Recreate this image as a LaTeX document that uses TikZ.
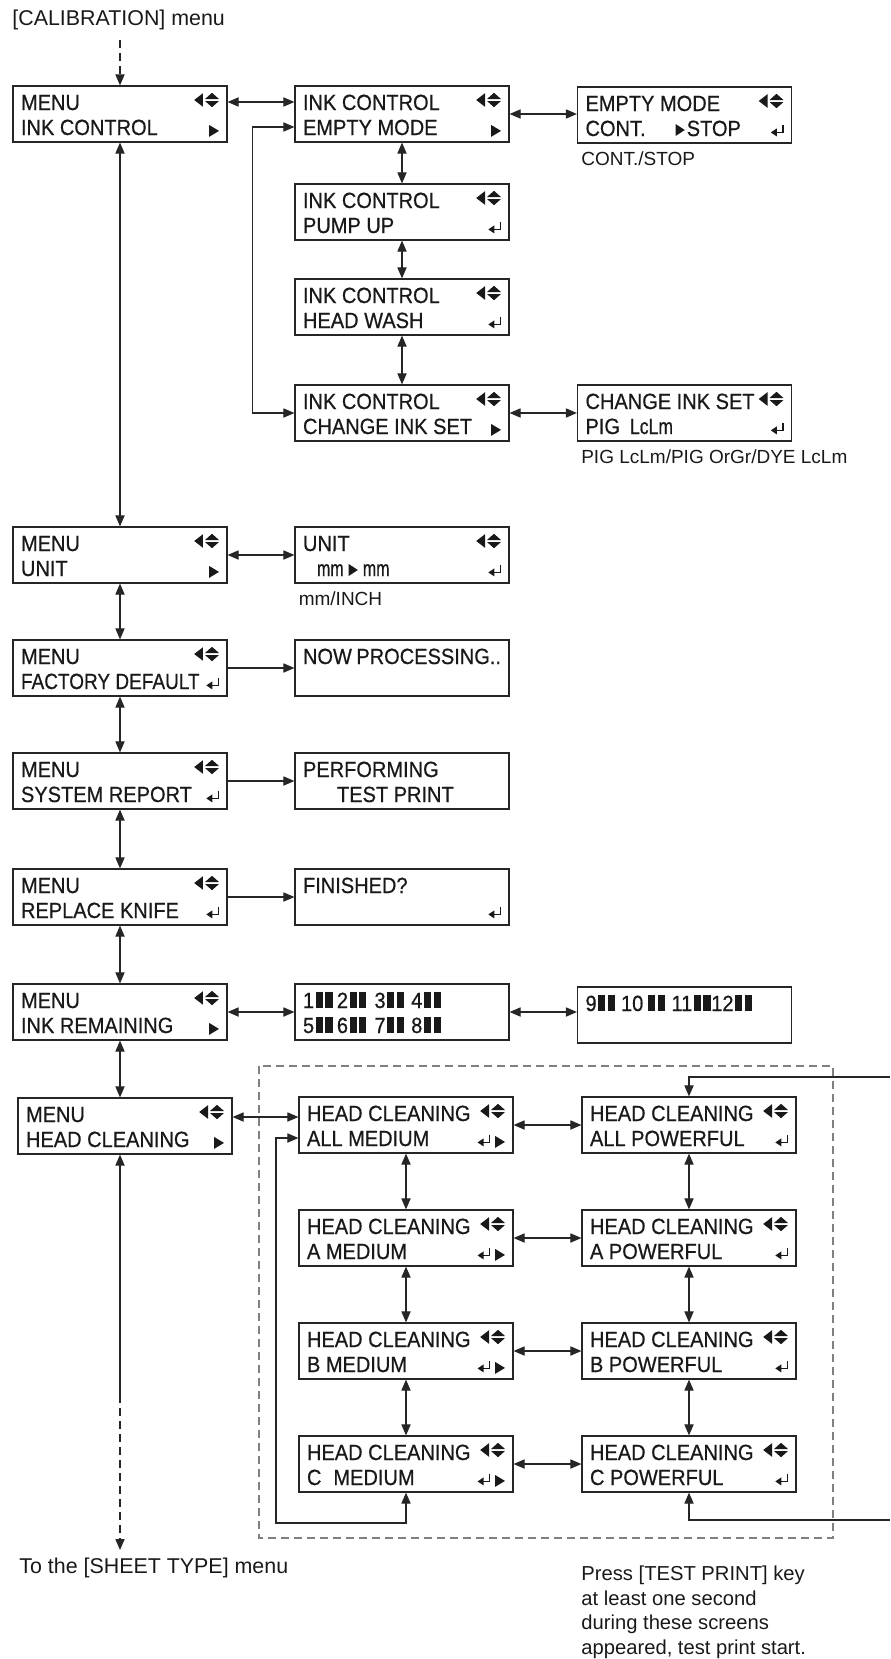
\documentclass[tikz,border=0pt]{standalone}
\usepackage{fontspec}
\usepackage{graphicx}
\setmainfont{Liberation Sans}
\newfontfamily\lcdfam[FakeStretch=0.91,FakeBold=0.6]{Liberation Sans}
\usetikzlibrary{arrows.meta}

% display glyphs
\newcommand\lcdstrut{\rule[-1.5pt]{0pt}{11.5pt}}
\newcommand\lud{\tikz[x=1pt,y=1pt,baseline=0pt]{%
  \fill[black!90] (0,5)--(4.4,8.4)--(4.4,1.6)--cycle;
  \fill[black!90] (5.4,5.5)--(12.4,5.5)--(8.9,8.6)--cycle;
  \fill[black!90] (5.4,4.5)--(12.4,4.5)--(8.9,1.4)--cycle;}}
\newcommand\rtri{\tikz[x=1pt,y=1pt,baseline=0pt]{\fill[black!90] (0,-0.9)--(0,5)--(4.9,2.05)--cycle;}}
\newcommand\itri{\tikz[x=1pt,y=1pt,baseline=0pt]{\fill[black!90] (0,0)--(0,6)--(4.6,3)--cycle;}}
\newcommand\ent{\tikz[x=1pt,y=1pt,baseline=0pt]{%
  \draw[black!90,line width=0.7pt] (6,5.6)--(6,1.8)--(2.4,1.8);
  \fill[black!90] (0,1.8)--(3,3.8)--(3,-0.2)--cycle;}}
\newcommand\bars{\hspace{0.8pt}\rule{3.6pt}{8pt}\hspace{1.2pt}\rule{3.6pt}{8pt}}
\newcommand\narrow[1]{\scalebox{0.8}[1]{#1}}
\newcommand\screen[4]{\vbox{\baselineskip=12.5pt\lineskiplimit=-20pt
  \hbox to 99pt{\lcdstrut#1\hfil#2}\hbox to 99pt{\lcdstrut#3\hfil#4}}}

\begin{document}
\begin{tikzpicture}[x=0.5pt,y=-0.5pt,
  >={Triangle[length=5.5pt,width=4.6pt]},
  lcd/.style={draw=black!85, line width=0.6pt, minimum width=107pt, minimum height=28pt,
    inner xsep=4pt, inner ysep=0pt, font=\lcdfam\fontsize{11pt}{12.5pt}\selectfont, text=black!90},
  wire/.style={draw=black!85, line width=0.55pt},
  dashwire/.style={wire, dash pattern=on 4pt off 2.5pt},
  hint/.style={font=\fontsize{10.7pt}{12.2pt}\selectfont, text=black!90, inner sep=0pt},
  setting/.style={font=\fontsize{9.5pt}{11pt}\selectfont, text=black!90, inner sep=0pt, anchor=base west}]
  \useasboundingbox (0,0) rectangle (890,1659);

  % entry and exit
  \node[hint, anchor=base west] (calib) at (12,26) {[CALIBRATION] menu};
  \coordinate (calibout) at (120,40);
  \node[hint, anchor=base west] (sheettype) at (19,1573) {To the [SHEET TYPE] menu};
  \coordinate (sheetmid) at (120,1395);
  \coordinate (sheetend) at (120,1550);

  % left column: MENU screens
  \node[lcd] (menuink) at (120,114) {\screen{MENU}{\lud}{INK CONTROL}{\rtri}};
  \node[lcd] (menuunit) at (120,555) {\screen{MENU}{\lud}{UNIT}{\rtri}};
  \node[lcd] (menufactory) at (120,668) {\screen{MENU}{\lud}{\scalebox{0.95}[1]{FACTORY DEFAULT}}{\ent}};
  \node[lcd] (menureport) at (120,781) {\screen{MENU}{\lud}{SYSTEM REPORT}{\ent}};
  \node[lcd] (menuknife) at (120,897) {\screen{MENU}{\lud}{REPLACE KNIFE}{\ent}};
  \node[lcd] (menuremain) at (120,1012) {\screen{MENU}{\lud}{INK REMAINING}{\rtri}};
  \node[lcd] (menuclean) at (125,1126) {\screen{MENU}{\lud}{HEAD CLEANING}{\rtri}};

  % ink control screens
  \node[lcd] (inkempty) at (402,114) {\screen{INK CONTROL}{\lud}{EMPTY MODE}{\rtri}};
  \node[lcd] (inkpump) at (402,212) {\screen{INK CONTROL}{\lud}{PUMP UP}{\ent}};
  \node[lcd] (inkwash) at (402,307) {\screen{INK CONTROL}{\lud}{HEAD WASH}{\ent}};
  \node[lcd] (inkchange) at (402,413) {\screen{INK CONTROL}{\lud}{CHANGE INK SET}{\rtri}};
  \node[lcd] (emptymode) at (684.5,115) {\screen{EMPTY MODE}{\lud}{CONT.\hspace{15pt}\itri\hspace{1pt}STOP}{\ent}};
  \node[lcd] (changeset) at (684.5,413) {\screen{CHANGE INK SET}{\lud}{PIG\hspace{5pt}\scalebox{0.88}[1]{LcLm}}{\ent}};
  \node[setting] (contstop) at ([shift={(4,22)}]emptymode.south west) {CONT./STOP};
  \node[setting] (inksets) at ([shift={(4,22)}]changeset.south west) {PIG LcLm/PIG OrGr/DYE LcLm};

  % other settings
  \node[lcd] (unitset) at (402,555) {\screen{UNIT}{\lud}{\hspace{7pt}\narrow{mm}\hspace{2.5pt}\itri\hspace{2.5pt}\narrow{mm}}{\ent}};
  \node[setting] (units) at ([shift={(4,22)}]unitset.south west) {mm/INCH};
  \node[lcd] (nowproc) at (402,668) {\screen{NOW PROCESSING..}{}{}{}};
  \node[lcd] (testprint) at (402,781) {\screen{PERFORMING}{}{\hspace{17pt}TEST PRINT}{}};
  \node[lcd] (finished) at (402,897) {\screen{FINISHED?}{}{}{\ent}};
  \node[lcd] (remain1) at (402,1012) {\screen{1\bars\hspace{2.2pt}2\bars\hspace{4pt}3\bars\hspace{3.6pt}4\bars}{}{5\bars\hspace{2.2pt}6\bars\hspace{4pt}7\bars\hspace{3.6pt}8\bars}{}};
  \node[lcd] (remain2) at (684.5,1015) {\screen{9\bars\hspace{3pt}10\hspace{1.5pt}\bars\hspace{3.4pt}11\bars\hspace{0.3pt}12\bars}{}{}{}};

  % head cleaning screens
  \draw[gray, line width=0.75pt, dash pattern=on 4pt off 2.5pt] (259,1066) rectangle (833,1538);
  \node[lcd] (allmed) at (406,1125) {\screen{HEAD CLEANING}{\lud}{ALL MEDIUM}{\ent\hspace{2.5pt}\rtri}};
  \node[lcd] (amed) at (406,1238) {\screen{HEAD CLEANING}{\lud}{A MEDIUM}{\ent\hspace{2.5pt}\rtri}};
  \node[lcd] (bmed) at (406,1351) {\screen{HEAD CLEANING}{\lud}{B MEDIUM}{\ent\hspace{2.5pt}\rtri}};
  \node[lcd] (cmed) at (406,1464) {\screen{HEAD CLEANING}{\lud}{C\hspace{6pt}MEDIUM}{\ent\hspace{2.5pt}\rtri}};
  \node[lcd] (allpow) at (689,1125) {\screen{HEAD CLEANING}{\lud}{ALL POWERFUL}{\ent}};
  \node[lcd] (apow) at (689,1238) {\screen{HEAD CLEANING}{\lud}{A POWERFUL}{\ent}};
  \node[lcd] (bpow) at (689,1351) {\screen{HEAD CLEANING}{\lud}{B POWERFUL}{\ent}};
  \node[lcd] (cpow) at (689,1464) {\screen{HEAD CLEANING}{\lud}{C POWERFUL}{\ent}};
  \coordinate (loopd) at (276,1523);
  \coordinate (powtop) at (890,1077);
  \coordinate (powbot) at (890,1520);
  % note: base anchor sits on the last line
  \node[hint, anchor=base west, align=left, font=\fontsize{10.1pt}{12.2pt}\selectfont] (testnote) at (581,1654)
    {Press [TEST PRINT] key\\at least one second\\during these screens\\appeared, test print start.};

  % connectors: left column
  \draw[dashwire,->] (calibout) -- (menuink.north);
  \draw[wire,<->] (menuink.south) -- (menuunit.north);
  \draw[wire,<->] (menuunit.south) -- (menufactory.north);
  \draw[wire,<->] (menufactory.south) -- (menureport.north);
  \draw[wire,<->] (menureport.south) -- (menuknife.north);
  \draw[wire,<->] (menuknife.south) -- (menuremain.north);
  \draw[wire,<->] (menuremain.south) -- (menuremain.south |- menuclean.north);
  \draw[wire,<-] (menuclean.south -| sheetmid) -- (sheetmid);
  \draw[dashwire,->] (sheetmid) -- (sheetend);

  % connectors: ink control
  \draw[wire,<->] ([shift={(0,-12)}]menuink.east) -- ([shift={(0,-12)}]inkempty.west);
  \draw[wire,<->] (inkempty.east) -- (inkempty.east -| emptymode.west);
  \draw[wire,<->] (inkempty.south) -- (inkpump.north);
  \draw[wire,<->] (inkpump.south) -- (inkwash.north);
  \draw[wire,<->] (inkwash.south) -- (inkchange.north);
  \draw[wire,<->] ([shift={(0,13)}]inkempty.west) -- +(-42,0) |- (inkchange.west);
  \draw[wire,<->] (inkchange.east) -- (changeset.west);

  % connectors: settings
  \draw[wire,<->] (menuunit.east) -- (unitset.west);
  \draw[wire,->] (menufactory.east) -- (nowproc.west);
  \draw[wire,->] (menureport.east) -- (testprint.west);
  \draw[wire,->] (menuknife.east) -- (finished.west);
  \draw[wire,<->] (menuremain.east) -- (remain1.west);
  \draw[wire,<->] (remain1.east) -- (remain1.east -| remain2.west);

  % connectors: head cleaning
  \draw[wire,<->] ([shift={(0,-9)}]menuclean.east) -- ([shift={(0,-9)}]menuclean.east -| allmed.west);
  \draw[wire,<->] (allmed.east) -- (allpow.west);
  \draw[wire,<->] (amed.east) -- (apow.west);
  \draw[wire,<->] (bmed.east) -- (bpow.west);
  \draw[wire,<->] (cmed.east) -- (cpow.west);
  \draw[wire,<->] (allmed.south) -- (amed.north);
  \draw[wire,<->] (amed.south) -- (bmed.north);
  \draw[wire,<->] (bmed.south) -- (cmed.north);
  \draw[wire,<->] (allpow.south) -- (apow.north);
  \draw[wire,<->] (apow.south) -- (bpow.north);
  \draw[wire,<->] (bpow.south) -- (cpow.north);
  \draw[wire,<->] ([shift={(0,13)}]allmed.west) -| (loopd) -| (cmed.south);
  \draw[wire,->] (powtop) -| (allpow.north);
  \draw[wire,->] (powbot) -| (cpow.south);
\end{tikzpicture}
\end{document}
